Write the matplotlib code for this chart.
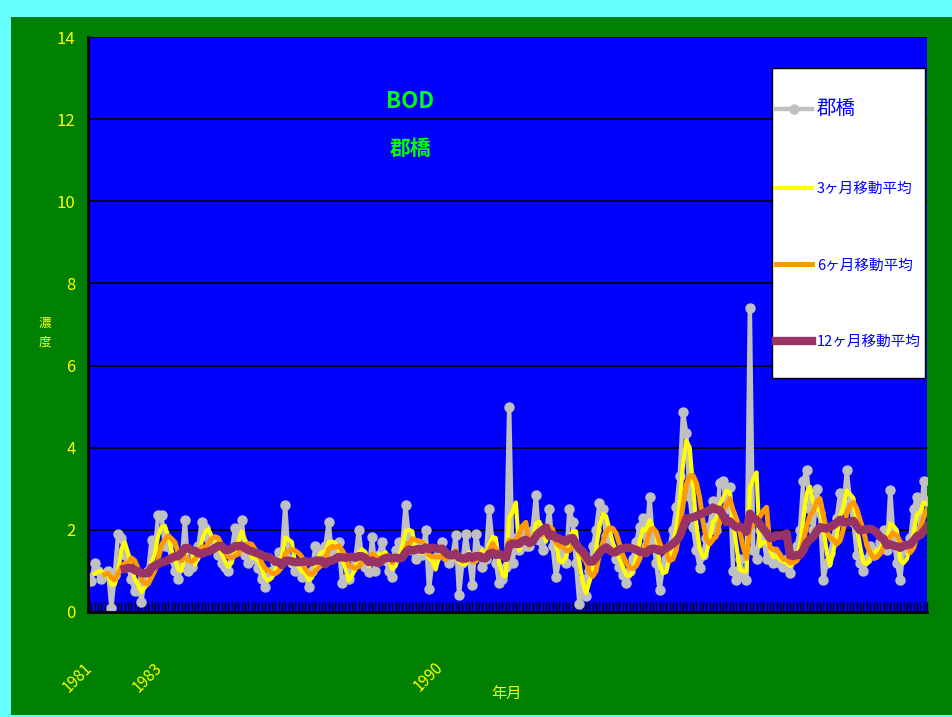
import matplotlib
matplotlib.use("Agg")
import matplotlib.pyplot as plt
import matplotlib.transforms as mtransforms
from matplotlib.patches import Rectangle
import numpy as np
import pandas as pd

plt.rcParams['font.family'] = ['Noto Sans CJK JP', 'DejaVu Sans']

# monthly BOD at 郡橋, Apr 1981 onwards, 12 values per row
bod_fy1981_1987 = [
    0.85, 0.75, 1.2, 1.0, 0.8, 0.9, 1.0, 0.1, 0.9, 1.9, 1.8, 1.4,
    1.1, 0.8, 0.5, 0.7, 0.25, 0.85, 1.0, 1.75, 1.5, 2.35, 2.35, 1.6,
    1.6, 1.3, 1.0, 0.8, 1.2, 2.25, 1.0, 1.1, 1.35, 1.6, 2.2, 2.05,
    1.8, 1.7, 1.65, 1.4, 1.2, 1.1, 1.0, 1.5, 2.05, 1.6, 2.25, 1.4,
    1.2, 1.4, 1.3, 1.07, 0.8, 0.6, 0.9, 1.0, 1.2, 1.45, 1.4, 2.6,
    1.3, 1.2, 1.0, 1.1, 0.85, 0.9, 0.6, 1.0, 1.6, 1.5, 1.3, 1.6,
    2.2, 1.35, 1.5, 1.7, 0.7, 0.8, 0.8, 1.07, 1.3, 2.0, 1.27, 1.1,
]
bod_fy1988_1994 = [
    0.97, 1.83, 1.0, 1.4, 1.7, 1.27, 1.0, 0.85, 1.5, 1.7, 1.6, 2.6,
    1.8, 1.5, 1.3, 1.6, 1.4, 2.0, 0.55, 1.2, 1.35, 1.5, 1.7, 1.35,
    1.2, 1.35, 1.87, 0.42, 1.2, 1.9, 1.3, 0.65, 1.9, 1.5, 1.1, 1.3,
    2.5, 1.7, 1.2, 0.7, 0.8, 1.1, 5.0, 1.2, 1.8, 1.5, 2.0, 1.6,
    1.6, 2.0, 2.85, 1.75, 1.5, 1.9, 2.5, 1.6, 0.85, 1.3, 1.5, 1.2,
    2.5, 2.2, 1.2, 0.2, 0.8, 0.4, 1.0, 1.6, 2.0, 2.65, 2.5, 1.85,
    1.7, 1.5, 1.3, 1.1, 0.9, 0.7, 1.0, 1.3, 1.7, 2.07, 2.3, 1.6,
]
bod_fy1995_2001 = [
    2.8, 1.75, 1.2, 0.53, 1.1, 1.3, 1.6, 2.0, 2.56, 3.3, 4.87, 4.35,
    2.8, 2.07, 1.5, 1.07, 1.4, 1.8, 2.1, 2.7, 2.0, 3.14, 3.2, 2.5,
    3.04, 1.0, 0.78, 1.3, 0.9, 0.78, 7.4, 1.5, 1.3, 2.0, 1.8, 1.3,
    1.5, 1.2, 1.4, 1.2, 1.1, 1.3, 0.95, 1.3, 1.6, 2.0, 3.2, 3.46,
    2.5, 2.0, 3.0, 2.4, 0.78, 1.2, 1.43, 1.8, 2.3, 2.9, 2.5, 3.46,
    2.65, 2.2, 1.4, 1.2, 1.0, 1.3, 1.6, 1.4, 1.5, 1.7, 2.0, 1.5,
    2.97, 1.8, 1.2, 0.78, 1.6, 1.5, 1.8, 2.5, 2.8, 2.0, 3.2, 2.7,
]
bod = pd.Series(bod_fy1981_1987 + bod_fy1988_1994 + bod_fy1995_2001)

# category labels shown under the axis (month index -> text)
year_label_idx = [0, 21, 105]
year_labels = ['1981', '1983', '1990']
y_ticks = [0, 2, 4, 6, 8, 10, 12, 14]

series_names = ['郡橋', '3ヶ月移動平均', '6ヶ月移動平均', '12ヶ月移動平均']

# Excel style trailing moving averages
ma3 = bod.rolling(3).mean()
ma6 = bod.rolling(6).mean()
ma12 = bod.rolling(12).mean()
x = np.arange(len(bod))

W, H = 953, 717
fig = plt.figure(figsize=(W / 100, H / 100), dpi=100, facecolor='#008000')
# cyan frame on top, left and bottom
for rx, ry, rw, rh in [(0, 1 - 17 / H, 1, 17 / H), (0, 0, 11 / W, 1), (0, 0, 1, 2 / H)]:
    fig.patches.append(Rectangle((rx, ry), rw, rh, transform=fig.transFigure,
                                 facecolor='#66FFFF', edgecolor='none', zorder=-1))

ax = fig.add_axes([88 / W, 1 - 612 / H, 839 / W, 575 / H])
ax.set_zorder(1)
ax.set_facecolor('#0000FF')

ax.plot(x, bod, color='#C0C0C0', lw=3.2, marker='o', ms=6.5, label=series_names[0], zorder=2)
ax.plot(x, ma3, color='#FFFF00', lw=3, label=series_names[1], zorder=3)
ax.plot(x, ma6, color='#FF9900', lw=3.6, label=series_names[2], zorder=4)
ax.plot(x, ma12, color='#993366', lw=6, label=series_names[3], zorder=4.5)

ax.set_xlim(0, len(bod) - 1)
ax.set_ylim(0, 14)
ax.set_yticks(y_ticks)
ax.yaxis.grid(True, color='black', lw=1.2)
ax.set_axisbelow(True)
ax.tick_params(axis='y', length=0, pad=9, labelcolor='#FFFF00', labelsize=12)
ax.set_xticks(x)
ax.tick_params(axis='x', direction='in', length=7, width=1, color='black',
               labelbottom=False)
for s in ['top', 'right']:
    ax.spines[s].set_visible(False)
ax.spines['left'].set_color('black')
ax.spines['left'].set_linewidth(2)
ax.spines['bottom'].set_color('black')
ax.spines['bottom'].set_linewidth(2)

trans = mtransforms.blended_transform_factory(ax.transData, ax.transAxes)
for idx, lab in zip(year_label_idx, year_labels):
    ax.annotate(lab, xy=(idx, 0), xycoords=trans, xytext=(-3, -34),
                textcoords='offset points', rotation=45, rotation_mode='anchor',
                ha='right', va='top', color='#FFFF00', fontsize=11,
                annotation_clip=False)

fig.text(507 / W, 1 - 693 / H, '年月', color='#FFFF00', fontsize=11,
         ha='center', va='center')
fig.text(45 / W, 1 - 333 / H, '濃\n度', color='#FFFF00', fontsize=9,
         ha='center', va='center', linespacing=1.6)

ax.text((410 - 88) / 839, (612 - 102) / 575, 'BOD', transform=ax.transAxes,
        color='#00FF00', fontsize=16, fontweight='bold', ha='center', va='center')
ax.text((411 - 88) / 839, (612 - 148) / 575, '郡橋', transform=ax.transAxes,
        color='#00FF00', fontsize=15, fontweight='bold', ha='center', va='center')

# legend box
ax.add_patch(Rectangle(((772 - 88) / 839, (612 - 378) / 575), 153 / 839, 310 / 575,
                       transform=ax.transAxes, facecolor='white', edgecolor='black',
                       lw=1, zorder=5))
leg = ax.legend(loc='upper left', bbox_to_anchor=((776 - 88) / 839, (612 - 98) / 575),
                frameon=False, borderpad=0, borderaxespad=0, fontsize=10.5,
                handlelength=2.5, handletextpad=0.3, labelspacing=4.3)
leg.set_zorder(6)
for t in leg.get_texts():
    t.set_color('#0000FF')
leg.get_texts()[0].set_fontsize(14)

fig.savefig('out.png', dpi=100, facecolor=fig.get_facecolor())
